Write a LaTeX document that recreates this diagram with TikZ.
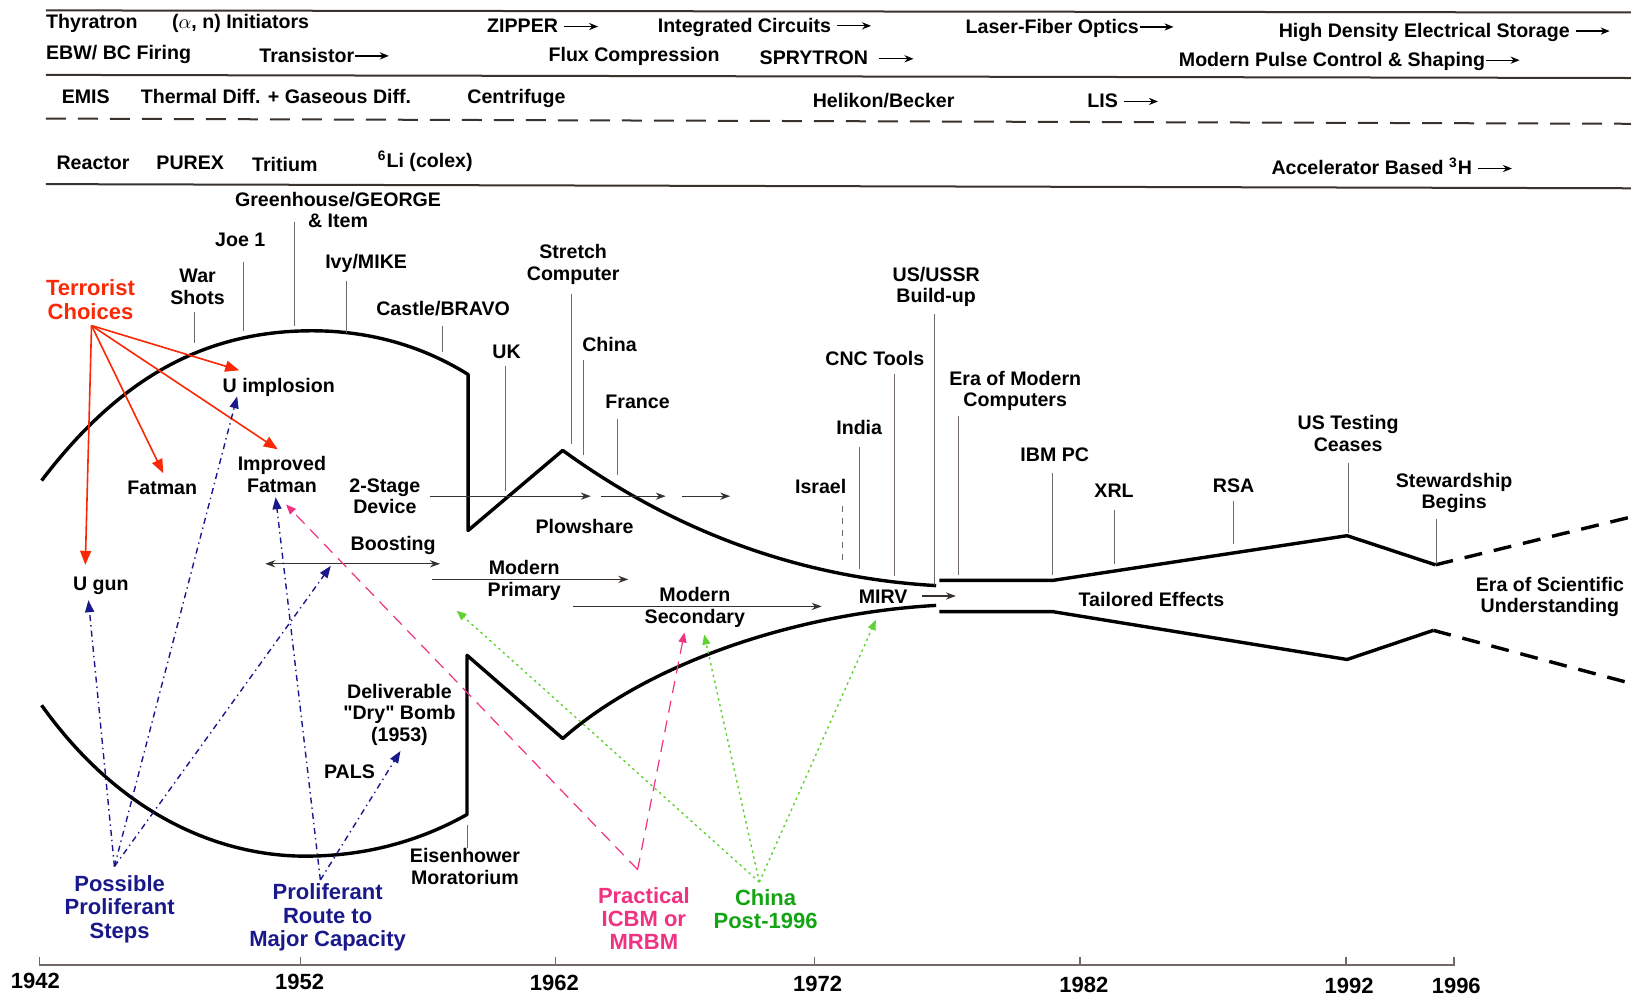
\documentclass[tikz,border=0pt]{standalone}
\usepackage{fontspec}
\setmainfont{Liberation Sans}
\usetikzlibrary{arrows.meta}

\definecolor{termred}{RGB}{250,40,5}
\definecolor{prolnavy}{RGB}{25,25,140}
\definecolor{icbmpink}{RGB}{240,50,130}
\definecolor{chinagreen}{RGB}{20,165,20}
\definecolor{dotgreen}{RGB}{95,210,50}
\definecolor{tickgray}{RGB}{115,105,100}
\definecolor{rulegray}{RGB}{55,50,45}

% small forward arrow used in the header rows
\newcommand{\fwd}{\tikz[baseline=-0.6ex]\draw[line width=0.6pt,-{Stealth[length=4.5pt,width=3.6pt]}] (0pt,0pt) -- (17pt,0pt);}

\begin{document}
\begin{tikzpicture}[x=0.52pt, y=-0.52pt,
    lbl/.style={font=\bfseries\fontsize{9.8}{10.8}\selectfont, align=center, inner sep=0pt},
    hdr/.style={lbl, anchor=west},
    clbl/.style={font=\bfseries\fontsize{11}{11.6}\selectfont, align=center, inner sep=0pt},
    yr/.style={font=\bfseries\fontsize{11}{12}\selectfont, inner sep=0pt},
    curve/.style={line width=1.7pt, line join=round},
    tick/.style={draw=tickgray, line width=0.45pt},
    rule/.style={draw=rulegray, line width=1pt},
    flow/.style={draw=rulegray, line width=0.6pt, -{Stealth[length=5pt,width=3.6pt]}},
    redarr/.style={draw=termred, line width=0.8pt, -{Triangle[length=7pt,width=5.5pt]}},
    navyarr/.style={draw=prolnavy, line width=0.7pt, dash dot, -{Triangle[length=6pt,width=4.5pt]}},
    pinkarr/.style={draw=icbmpink, line width=0.6pt, dash pattern=on 6pt off 4pt, -{Triangle[length=5pt,width=4pt]}},
    greenarr/.style={draw=dotgreen, line width=0.7pt, dash pattern=on 1.2pt off 1.8pt, -{Triangle[length=5pt,width=4pt]}}]

    \useasboundingbox (0,0) rectangle (1568,959);
    \fill[white] (0,0) rectangle (1568,959);

    % Header rows
    \draw[rule] (44,10) -- (1568,12);
    \node[hdr] (thyr) at (44,23) {Thyratron};
    \node[hdr] (init) at (165,23) {($\alpha$, n) Initiators};
    \node[hdr] (zipper) at (468,25) {ZIPPER \fwd};
    \node[hdr] (intc) at (632,26) {Integrated Circuits \fwd};
    \node[hdr] (laser) at (928,27) {Laser-Fiber Optics\fwd};
    \node[hdr] (hdes) at (1229,31) {High Density Electrical Storage \fwd};
    \node[hdr] (ebw) at (44,52) {EBW/ BC Firing};
    \node[hdr] (trans) at (249,53) {Transistor\fwd};
    \node[hdr] (flux) at (527,54) {Flux Compression};
    \node[hdr] (spry) at (730,56) {SPRYTRON \ \fwd};
    \node[hdr] (pulse) at (1133,59) {Modern Pulse Control \& Shaping\fwd};
    \draw[rule] (44,72) -- (1568,75);

    \node[hdr] (emis) at (59,93) {EMIS};
    \node[hdr] (therm) at (135,93) {Thermal Diff. + Gaseous Diff.};
    \node[hdr] (centr) at (449,95) {Centrifuge};
    \node[hdr] (helik) at (781,97) {Helikon/Becker};
    \node[hdr] (lis) at (1045,97) {LIS \fwd};
    \draw[rule, dash pattern=on 10pt off 6pt] (44,114) -- (1568,119);

    \node[hdr] (react) at (54,157) {Reactor};
    \node[hdr] (purex) at (150,157) {PUREX};
    \node[hdr] (trit) at (242,158) {Tritium};
    \node[hdr] (colex) at (363,155) {\textsuperscript{6}Li (colex)};
    \node[hdr] (accel) at (1222,160) {Accelerator Based \textsuperscript{3}H \fwd};
    \draw[rule] (44,177) -- (1568,181);

    % Upper and lower envelopes
    \draw[curve] (40,462) .. controls (110,370) and (190,318) .. (300,318)
        .. controls (360,318) and (410,335) .. (450,360) -- (450,510) -- (541,433)
        .. controls (640,505) and (760,555) .. (900,563);
    \draw[curve] (40,678) .. controls (120,790) and (220,825) .. (300,823)
        .. controls (360,822) and (410,805) .. (449,783) -- (449,630) -- (541,710)
        .. controls (620,640) and (760,590) .. (900,582);
    \draw[curve] (903,558) -- (1012,558) -- (1295,515) -- (1380,543);
    \draw[curve, dashed, dash pattern=on 9pt off 6pt] (1380,543) -- (1568,497);
    \draw[curve] (903,588) -- (1012,588) -- (1295,634) -- (1378,606);
    \draw[curve, dashed, dash pattern=on 9pt off 6pt] (1378,606) -- (1568,657);

    % Events above the envelope
    \node[lbl] (war) at (190,276) {War\\Shots};
    \node[lbl] (joe) at (231,231) {Joe 1};
    \node[lbl] (green) at (325,202) {Greenhouse/GEORGE\\\& Item};
    \node[lbl] (ivy) at (352,253) {Ivy/MIKE};
    \node[lbl] (castle) at (426,297) {Castle/BRAVO};
    \node[lbl] (uk) at (487,338) {UK};
    \node[lbl] (stretch) at (551,254) {Stretch\\Computer};
    \node[lbl] (china) at (586,331) {China};
    \node[lbl] (france) at (613,386) {France};
    \node[lbl] (israel) at (789,468) {Israel};
    \node[lbl] (india) at (826,411) {India};
    \node[lbl] (cnc) at (841,345) {CNC Tools};
    \node[lbl] (build) at (900,276) {US/USSR\\Build-up};
    \node[lbl] (eramod) at (976,376) {Era of Modern\\Computers};
    \node[lbl] (ibm) at (1014,437) {IBM PC};
    \node[lbl] (xrl) at (1071,472) {XRL};
    \node[lbl] (rsa) at (1186,467) {RSA};
    \node[lbl] (usts) at (1296,417) {US Testing\\Ceases};
    \node[lbl] (stew) at (1398,474) {Stewardship\\Begins};

    \draw[tick] (187,300) -- (187,330);
    \draw[tick] (234,252) -- (234,318);
    \draw[tick] (283,213) -- (283,313);
    \draw[tick] (333,270) -- (333,320);
    \draw[tick] (425,313) -- (425,338);
    \draw[tick] (486,352) -- (486,472);
    \draw[tick] (549,283) -- (549,427);
    \draw[tick] (561,346) -- (561,437);
    \draw[tick] (594,403) -- (594,457);
    \draw[tick, dashed] (810,486) -- (810,540);
    \draw[tick] (826,430) -- (826,547);
    \draw[tick] (860,360) -- (860,554);
    \draw[tick] (898,302) -- (898,562);
    \draw[tick] (921,400) -- (921,553);
    \draw[tick] (1012,455) -- (1012,553);
    \draw[tick] (1071,490) -- (1071,542);
    \draw[tick] (1186,482) -- (1186,523);
    \draw[tick] (1296,445) -- (1296,512);
    \draw[tick] (1381,499) -- (1381,542);

    % Designs inside the envelope
    \node[lbl] (uimp) at (268,372) {U implosion};
    \node[lbl] (fatman) at (156,469) {Fatman};
    \node[lbl] (impfat) at (271,456) {Improved\\Fatman};
    \node[lbl] (stage) at (370,477) {2-Stage\\Device};
    \node[lbl] (plow) at (562,506) {Plowshare};
    \node[lbl] (boost) at (378,524) {Boosting};
    \node[lbl] (mprim) at (504,558) {Modern\\Primary};
    \node[lbl] (msec) at (668,584) {Modern\\Secondary};
    \node[lbl] (mirv) at (849,574) {MIRV};
    \node[lbl] (tail) at (1107,576) {Tailored Effects};
    \node[lbl] (erasci) at (1490,574) {Era of Scientific\\Understanding};
    \node[lbl] (ugun) at (97,563) {U gun};
    \node[lbl] (dry) at (384,687) {Deliverable\\\textquotedbl Dry\textquotedbl{} Bomb\\(1953)};
    \node[lbl] (pals) at (336,742) {PALS};
    \node[lbl] (eisen) at (447,833) {Eisenhower\\Moratorium};
    \draw[tick] (449,793) -- (eisen.north -| 449,0);

    % Development arrows
    \draw[flow] (413,477) -- (568,477);
    \draw[flow] (578,477) -- (640,477);
    \draw[flow] (656,477) -- (702,477);
    \draw[flow, {Stealth[length=5pt,width=3.6pt]}-{Stealth[length=5pt,width=3.6pt]}] (255,542) -- (423,542);
    \draw[flow] (415,557) -- (604,557);
    \draw[flow] (551,583) -- (790,583);
    \draw[flow] (886,573) -- (919,573);

    % Terrorist choices
    \node[clbl, text=termred] (terr) at (87,288) {Terrorist\\Choices};
    \coordinate (terr-src) at (88,313);
    \coordinate (ugun-in) at (82,543);
    \coordinate (fat-in) at (157,455);
    \coordinate (uimp-in) at (230,356);
    \coordinate (impfat-in) at (267,432);
    \draw[redarr] (terr-src) -- (ugun-in);
    \draw[redarr] (terr-src) -- (fat-in);
    \draw[redarr] (terr-src) -- (uimp-in);
    \draw[redarr] (terr-src) -- (impfat-in);

    % Proliferant paths
    \node[clbl, text=prolnavy] (poss) at (115,874) {Possible\\Proliferant\\Steps};
    \node[clbl, text=prolnavy] (route) at (315,882) {Proliferant\\Route to\\Major Capacity};
    \coordinate (poss-src) at (110,833);
    \coordinate (route-src) at (308,846);
    \coordinate (ugun-up) at (85,577);
    \coordinate (uimp-up) at (228,381);
    \coordinate (boost-up) at (318,544);
    \coordinate (impfat-up) at (265,478);
    \coordinate (dry-up) at (385,722);
    \draw[navyarr] (poss-src) -- (ugun-up);
    \draw[navyarr] (poss-src) -- (uimp-up);
    \draw[navyarr] (poss-src) -- (boost-up);
    \draw[navyarr] (route-src) -- (impfat-up);
    \draw[navyarr] (route-src) -- (dry-up);

    % Missile delivery
    \node[clbl, text=icbmpink] (icbm) at (619,883) {Practical\\ICBM or\\MRBM};
    \coordinate (icbm-src) at (613,836);
    \coordinate (impfat-pk) at (275,485);
    \coordinate (msec-pk) at (658,608);
    \draw[pinkarr] (icbm-src) -- (impfat-pk);
    \draw[pinkarr] (icbm-src) -- (msec-pk);

    % China after 1996
    \node[clbl, text=chinagreen] (chpost) at (736,874) {China\\Post-1996};
    \coordinate (china-src) at (730,848);
    \coordinate (mprim-gr) at (439,587);
    \coordinate (msec-gr) at (677,610);
    \coordinate (mirv-gr) at (842,596);
    \draw[greenarr] (china-src) -- (mprim-gr);
    \draw[greenarr] (china-src) -- (msec-gr);
    \draw[greenarr] (china-src) -- (mirv-gr);

    % Time axis
    \draw[draw=tickgray, line width=0.8pt] (38,920) -- (38,928) -- (1398,928) -- (1398,920);
    \draw[draw=tickgray, line width=0.8pt] (289,928) -- (289,920);
    \draw[draw=tickgray, line width=0.8pt] (534,928) -- (534,920);
    \draw[draw=tickgray, line width=0.8pt] (783,928) -- (783,920);
    \draw[draw=tickgray, line width=0.8pt] (1038,928) -- (1038,920);
    \draw[draw=tickgray, line width=0.8pt] (1294,928) -- (1294,920);
    \node[yr] (y1942) at (34,943) {1942};
    \node[yr] (y1952) at (288,944) {1952};
    \node[yr] (y1962) at (533,945) {1962};
    \node[yr] (y1972) at (786,946) {1972};
    \node[yr] (y1982) at (1042,947) {1982};
    \node[yr] (y1992) at (1297,948) {1992};
    \node[yr] (y1996) at (1400,948) {1996};
\end{tikzpicture}
\end{document}
